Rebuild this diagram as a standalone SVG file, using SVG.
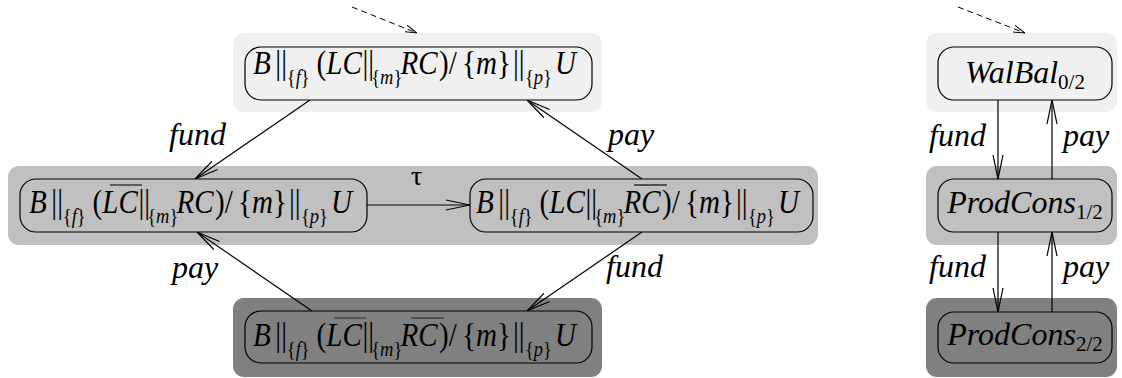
<svg xmlns="http://www.w3.org/2000/svg" width="1122" height="378" viewBox="0 0 1122 378">
<style>
.bg{fill:#fff}
.b0{fill:#f0f0f0}.b1{fill:#c0c0c0}.b2{fill:#808080}
.n{stroke:#000;stroke-width:1.2}
.t{font-family:"Liberation Serif","Times New Roman",serif;font-size:32px;fill:#000}
.f{font-family:"Liberation Serif","Times New Roman",serif;font-size:33px;fill:#000}
.i{font-style:italic}
.s{font-size:21px}
.ov{stroke:#505050;stroke-width:1.8}
.e{stroke:#000;stroke-width:1.2;fill:none}
.d{stroke:#000;stroke-width:1;fill:none;stroke-dasharray:6 4}
.lb{font-family:"Liberation Serif","Times New Roman",serif;font-size:32px;font-style:italic;fill:#000}
</style>
<defs>
<marker id="ah" markerUnits="userSpaceOnUse" viewBox="0 0 24 12" refX="24" refY="6" markerWidth="24" markerHeight="12" orient="auto">
<path d="M0,1 L24,6 L0,11" fill="none" stroke="#000" stroke-width="1.2"/>
</marker>
<marker id="dh" markerUnits="userSpaceOnUse" viewBox="0 0 12 8" refX="12" refY="4" markerWidth="12" markerHeight="8" orient="auto">
<path d="M0,0.5 L12,4 L0,7.5" fill="none" stroke="#000" stroke-width="1"/>
</marker>
</defs>
<rect class="bg" x="0" y="0" width="1122" height="378"/>
<g id="bands">
<rect class="b0" x="233" y="33" width="369" height="79" rx="11"/>
<rect class="b1" x="8" y="166" width="810" height="79" rx="11"/>
<rect class="b2" x="233" y="298" width="369" height="79" rx="11"/>
<rect class="b0" x="926" y="33" width="191" height="79" rx="11"/>
<rect class="b1" x="926" y="166" width="191" height="79" rx="11"/>
<rect class="b2" x="926" y="298" width="191" height="79" rx="11"/>
</g>
<g id="connectors">
<line class="d" x1="352" y1="7" x2="417" y2="33" marker-end="url(#dh)"/>
<line class="d" x1="958" y1="7" x2="1025" y2="33" marker-end="url(#dh)"/>
<line class="e" x1="310" y1="100" x2="195" y2="179" marker-end="url(#ah)"/>
<line class="e" x1="642" y1="179" x2="527" y2="100" marker-end="url(#ah)"/>
<line class="e" x1="312" y1="311" x2="197" y2="232" marker-end="url(#ah)"/>
<line class="e" x1="642" y1="232" x2="527" y2="311" marker-end="url(#ah)"/>
<line class="e" x1="367" y1="205" x2="470" y2="205" marker-end="url(#ah)"/>
<line class="e" x1="998" y1="100" x2="998" y2="179" marker-end="url(#ah)"/>
<line class="e" x1="1052" y1="179" x2="1052" y2="100" marker-end="url(#ah)"/>
<line class="e" x1="998" y1="232" x2="998" y2="312" marker-end="url(#ah)"/>
<line class="e" x1="1052" y1="312" x2="1052" y2="232" marker-end="url(#ah)"/>
<text class="lb" x="169" y="145">fund</text>
<text class="lb" x="608" y="145">pay</text>
<text class="lb" x="172" y="278">pay</text>
<text class="lb" x="606" y="277">fund</text>
<text class="t" x="411" y="185" style="font-size:28px">τ</text>
<text class="lb" x="929" y="146">fund</text>
<text class="lb" x="1063" y="146">pay</text>
<text class="lb" x="929" y="277">fund</text>
<text class="lb" x="1063" y="277">pay</text>
</g>
<g id="s0">
<rect class="n b0" x="245" y="47" width="347" height="53" rx="16"/>
<g transform="translate(252,74)">
<text class="f" transform="scale(0.88,1)"><tspan x="1.1" class="i">B</tspan><tspan x="26.5">||</tspan><tspan x="39.5" y="10" class="s">{</tspan><tspan class="s i">f</tspan><tspan class="s">}</tspan><tspan x="73.4" y="0">(</tspan><tspan class="i">LC</tspan><tspan x="125.6">||</tspan><tspan x="135.5" y="10" class="s">{</tspan><tspan class="s i">m</tspan><tspan class="s">}</tspan><tspan x="168.8" y="0" class="i">RC</tspan><tspan x="212.5">)/</tspan><tspan x="238.6">{</tspan><tspan class="i">m</tspan><tspan>}</tspan><tspan x="296.5">||</tspan><tspan x="310.2" y="10" class="s">{</tspan><tspan class="s i">p</tspan><tspan class="s">}</tspan><tspan x="344.3" y="0" class="i">U</tspan></text>
</g>
</g>
<g id="s1">
<rect class="n b1" x="20" y="179" width="347" height="53" rx="16"/>
<g transform="translate(28,213)">
<text class="f" transform="scale(0.88,1)"><tspan x="1.1" class="i">B</tspan><tspan x="26.5">||</tspan><tspan x="39.5" y="10" class="s">{</tspan><tspan class="s i">f</tspan><tspan class="s">}</tspan><tspan x="73.4" y="0">(</tspan><tspan class="i">LC</tspan><tspan x="125.6">||</tspan><tspan x="135.5" y="10" class="s">{</tspan><tspan class="s i">m</tspan><tspan class="s">}</tspan><tspan x="168.8" y="0" class="i">RC</tspan><tspan x="212.5">)/</tspan><tspan x="238.6">{</tspan><tspan class="i">m</tspan><tspan>}</tspan><tspan x="296.5">||</tspan><tspan x="310.2" y="10" class="s">{</tspan><tspan class="s i">p</tspan><tspan class="s">}</tspan><tspan x="344.3" y="0" class="i">U</tspan></text>
<line class="ov" x1="82" y1="-28" x2="114" y2="-28"/>
</g>
</g>
<g id="s2">
<rect class="n b1" x="470" y="179" width="343" height="53" rx="16"/>
<g transform="translate(475,213)">
<text class="f" transform="scale(0.88,1)"><tspan x="1.1" class="i">B</tspan><tspan x="26.5">||</tspan><tspan x="39.5" y="10" class="s">{</tspan><tspan class="s i">f</tspan><tspan class="s">}</tspan><tspan x="73.4" y="0">(</tspan><tspan class="i">LC</tspan><tspan x="125.6">||</tspan><tspan x="135.5" y="10" class="s">{</tspan><tspan class="s i">m</tspan><tspan class="s">}</tspan><tspan x="168.8" y="0" class="i">RC</tspan><tspan x="212.5">)/</tspan><tspan x="238.6">{</tspan><tspan class="i">m</tspan><tspan>}</tspan><tspan x="296.5">||</tspan><tspan x="310.2" y="10" class="s">{</tspan><tspan class="s i">p</tspan><tspan class="s">}</tspan><tspan x="344.3" y="0" class="i">U</tspan></text>
<line class="ov" x1="159" y1="-28" x2="192" y2="-28"/>
</g>
</g>
<g id="s3">
<rect class="n b2" x="245" y="311" width="347" height="52" rx="16"/>
<g transform="translate(252,346)">
<text class="f" transform="scale(0.88,1)"><tspan x="1.1" class="i">B</tspan><tspan x="26.5">||</tspan><tspan x="39.5" y="10" class="s">{</tspan><tspan class="s i">f</tspan><tspan class="s">}</tspan><tspan x="73.4" y="0">(</tspan><tspan class="i">LC</tspan><tspan x="125.6">||</tspan><tspan x="135.5" y="10" class="s">{</tspan><tspan class="s i">m</tspan><tspan class="s">}</tspan><tspan x="168.8" y="0" class="i">RC</tspan><tspan x="212.5">)/</tspan><tspan x="238.6">{</tspan><tspan class="i">m</tspan><tspan>}</tspan><tspan x="296.5">||</tspan><tspan x="310.2" y="10" class="s">{</tspan><tspan class="s i">p</tspan><tspan class="s">}</tspan><tspan x="344.3" y="0" class="i">U</tspan></text>
<line class="ov" x1="82" y1="-28" x2="114" y2="-28"/>
<line class="ov" x1="159" y1="-28" x2="192" y2="-28"/>
</g>
</g>
<g id="w0">
<rect class="n b0" x="938" y="47" width="174" height="53" rx="16"/>
<text class="t" x="1025" y="83" text-anchor="middle"><tspan class="i">WalBal</tspan><tspan class="s" dy="6">0/2</tspan></text>
</g>
<g id="w1">
<rect class="n b1" x="938" y="179" width="174" height="53" rx="16"/>
<text class="t" x="1025" y="213" text-anchor="middle"><tspan class="i">ProdCons</tspan><tspan class="s" dy="6">1/2</tspan></text>
</g>
<g id="w2">
<rect class="n b2" x="938" y="312" width="174" height="51" rx="16"/>
<text class="t" x="1025" y="345" text-anchor="middle"><tspan class="i">ProdCons</tspan><tspan class="s" dy="6">2/2</tspan></text>
</g>
</svg>
